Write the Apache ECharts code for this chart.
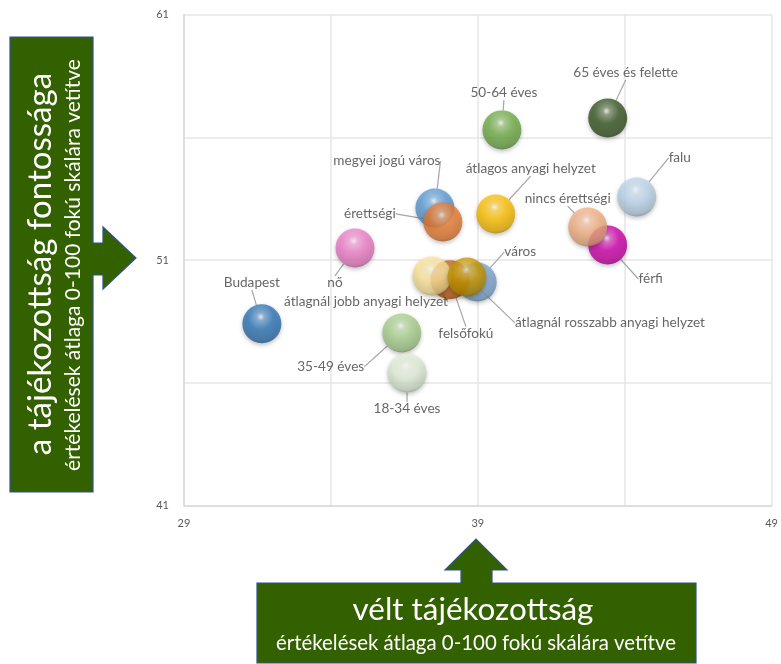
<!DOCTYPE html>
<html>
<head>
<meta charset="utf-8">
<script src="https://cdn.jsdelivr.net/npm/echarts@6/dist/echarts.min.js"></script>
<style>
  html, body { margin: 0; padding: 0; background: #fff; }
  #chart { width: 781px; height: 664px; }
</style>
</head>
<body>
<div id="chart"></div>
<script>
// csoportok (a rajzolási sorrend számít: a későbbi van felül)
const names = [
  'Budapest', 'nő', 'megyei jogú város', 'érettségi', 'átlagos anyagi helyzet',
  '50-64 éves', '65 éves és felette', 'falu', 'férfi', 'nincs érettségi',
  'város', 'felsőfokú', 'átlagnál jobb anyagi helyzet', 'átlagnál rosszabb anyagi helyzet',
  '35-49 éves', '18-34 éves'
]
// vélt tájékozottság
const xValues = [31.65, 34.82, 37.54, 37.81, 39.61, 39.82, 43.42, 44.41, 43.42, 42.74,
  38.98, 38.05, 37.44, 38.63, 36.41, 36.59]
// a tájékozottság fontossága
const yValues = [48.4, 51.49, 53.12, 52.55, 52.87, 56.3, 56.78, 53.57, 51.61, 52.34,
  50.1, 50.2, 50.35, 50.31, 48.03, 46.4]
const xTicks = [29, 39, 49]
const yTicks = [41, 51, 61]

const colors = ['#2E75B6', '#F07ECA', '#5B9BD5', '#ED7D31', '#FFC000',
  '#70AD47', '#375623', '#BDD7EE', '#D000AC', '#F4B183',
  '#7FA8D4', '#C55A11', '#FFE699', '#C99A00', '#A9D18E', '#E2F0D9']
// címkék eltolása a buborék közepéhez képest (px)
const labelOffsets = [[-10, -41], [-20, 35], [-48, -47], [-73, -8], [35, -45],
  [2, -37], [18, -45], [43, -39], [43, 34], [-20, -28],
  [43, -30], [16, 54], [-66, 26], [143, 46], [-71, 34], [0, 36]]

function mix(hex, t, target) {
  const n = parseInt(hex.slice(1), 16)
  const r = (n >> 16) & 255, g = (n >> 8) & 255, b = n & 255
  const m = (c) => Math.round(c + (target - c) * t)
  return 'rgb(' + m(r) + ',' + m(g) + ',' + m(b) + ')'
}

function sphere(c) {
  return new echarts.graphic.RadialGradient(0.47, 0.32, 0.72, [
    { offset: 0, color: mix(c, 0.9, 255) },
    { offset: 0.14, color: mix(c, 0.35, 255) },
    { offset: 0.45, color: c },
    { offset: 0.85, color: mix(c, 0.15, 0) },
    { offset: 1, color: mix(c, 0.4, 0) }
  ])
}

const font = 'Lato, "Noto Sans", sans-serif'
const measureCtx = document.createElement('canvas').getContext('2d')
function fitSize(text, width) {
  measureCtx.font = '100px ' + font
  return 100 * width / measureCtx.measureText(text).width
}

const seriesData = names.map((n, i) => ({
  name: n,
  value: [xValues[i], yValues[i]],
  itemStyle: { color: sphere(colors[i]) }
}))

const chart = echarts.init(document.getElementById('chart'))

const leftTitle = 'a tájékozottság fontossága'
const bottomTitle = 'vélt tájékozottság'
const subTitle = 'értékelések átlaga 0‑100 fokú skálára vetítve'

const option = {
  animation: false,
  grid: { left: 184, top: 14.5, right: 9, bottom: 158.5 },
  xAxis: {
    type: 'value',
    min: 29,
    max: 49,
    interval: 5,
    axisLine: { show: true, lineStyle: { color: '#D9D9D9', width: 1.5 } },
    axisTick: { show: false },
    splitLine: { show: true, lineStyle: { color: '#E6E6E6', width: 1.5 } },
    axisLabel: {
      color: '#595959',
      fontSize: 11,
      fontFamily: font,
      margin: 12,
      formatter: (v) => (xTicks.indexOf(v) >= 0 ? v : '')
    }
  },
  yAxis: {
    type: 'value',
    min: 41,
    max: 61,
    interval: 5,
    axisLine: { show: true, lineStyle: { color: '#D9D9D9', width: 1.5 } },
    axisTick: { show: false },
    splitLine: { show: true, lineStyle: { color: '#E6E6E6', width: 1.5 } },
    axisLabel: {
      color: '#595959',
      fontSize: 11,
      fontFamily: font,
      margin: 15,
      formatter: (v) => (yTicks.indexOf(v) >= 0 ? v : '')
    }
  },
  series: [
    {
      type: 'scatter',
      symbolSize: 39,
      data: seriesData,
      itemStyle: {
        shadowBlur: 4,
        shadowColor: 'rgba(0,0,0,0.3)',
        shadowOffsetY: 2
      },
      label: {
        show: true,
        position: 'inside',
        formatter: '{b}',
        color: '#404040',
        fontSize: 13.6,
        fontFamily: font
      },
      labelLine: {
        show: true,
        lineStyle: { color: '#A6A6A6', width: 1.2 }
      },
      labelLayout: function (params) {
        const o = labelOffsets[params.dataIndex]
        return { dx: o[0], dy: o[1] }
      },
      emphasis: { disabled: true }
    }
  ],
  graphic: [
    {
      type: 'polygon',
      shape: {
        points: [[10, 37], [93, 37], [93, 243], [103, 243], [103, 227], [136, 258],
          [103, 289], [103, 275], [93, 275], [93, 492], [10, 492]]
      },
      style: { fill: '#336100', stroke: '#2F528F', lineWidth: 1.2 }
    },
    {
      type: 'text',
      x: 40, y: 264,
      rotation: Math.PI / 2,
      style: {
        text: leftTitle,
        fill: '#fff',
        font: fitSize(leftTitle, 382).toFixed(1) + 'px ' + font,
        align: 'center',
        verticalAlign: 'middle'
      }
    },
    {
      type: 'text',
      x: 73, y: 265,
      rotation: Math.PI / 2,
      style: {
        text: subTitle,
        fill: '#fff',
        font: fitSize(subTitle, 412).toFixed(1) + 'px ' + font,
        align: 'center',
        verticalAlign: 'middle'
      }
    },
    {
      type: 'polygon',
      shape: {
        points: [[257, 583], [461, 583], [461, 570], [445, 570], [476, 539], [507, 570],
          [492, 570], [492, 583], [696, 583], [696, 663], [257, 663]]
      },
      style: { fill: '#336100', stroke: '#2F528F', lineWidth: 1.2 }
    },
    {
      type: 'text',
      x: 473, y: 610,
      style: {
        text: bottomTitle,
        fill: '#fff',
        font: fitSize(bottomTitle, 241).toFixed(1) + 'px ' + font,
        align: 'center',
        verticalAlign: 'middle'
      }
    },
    {
      type: 'text',
      x: 476, y: 643,
      style: {
        text: subTitle,
        fill: '#fff',
        font: fitSize(subTitle, 400).toFixed(1) + 'px ' + font,
        align: 'center',
        verticalAlign: 'middle'
      }
    }
  ]
}

chart.setOption(option)
</script>
</body>
</html>
